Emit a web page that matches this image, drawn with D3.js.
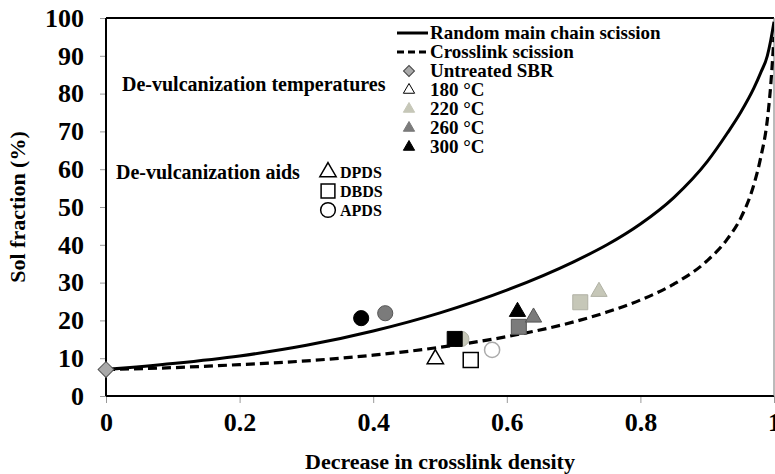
<!DOCTYPE html>
<html>
<head>
<meta charset="utf-8">
<script src="https://cdn.jsdelivr.net/npm/d3@7"></script>
<style>
  body { margin: 0; background: #fff; }
  text { font-family: "Liberation Serif", "Times New Roman", serif; font-weight: bold; fill: #000; }
</style>
</head>
<body>
<div id="chart"></div>
<script>
// theoretical curves
const chainX = [0, 0.1, 0.2, 0.3, 0.4, 0.5, 0.6, 0.7, 0.75, 0.8, 0.85, 0.9, 0.93, 0.95, 0.97, 0.98, 0.99, 0.995, 1];
const chainY = [7, 8.6, 10.6, 13.4, 17.2, 22, 28, 35.5, 40, 45.5, 52.5, 62, 69.5, 75, 81.5, 85.5, 90, 94, 99];
const crossX = [0, 0.1, 0.2, 0.3, 0.4, 0.5, 0.6, 0.7, 0.75, 0.8, 0.85, 0.9, 0.93, 0.95, 0.97, 0.98, 0.99, 0.995, 1];
const crossY = [7, 7.5, 8.3, 9.3, 10.8, 12.9, 15.7, 19.6, 22.2, 25.4, 29.6, 35.8, 41.5, 47, 56, 63, 73, 82, 95];

// samples
const sampleX     = [0, 0.493, 0.546, 0.578, 0.738, 0.71, 0.532, 0.64, 0.618, 0.418, 0.616, 0.522, 0.382];
const sampleY     = [7, 9.8, 9.5, 12.2, 27.6, 24.8, 15.1, 20.8, 18.3, 21.9, 22.3, 15.1, 20.6];
const sampleAid   = ["none", "DPDS", "DBDS", "APDS", "DPDS", "DBDS", "APDS", "DPDS", "DBDS", "APDS", "DPDS", "DBDS", "APDS"];
const sampleTemp  = ["SBR", "180", "180", "180", "220", "220", "220", "260", "260", "260", "300", "300", "300"];

const xTicks = [0, 0.2, 0.4, 0.6, 0.8, 1];
const yTicks = [0, 10, 20, 30, 40, 50, 60, 70, 80, 90, 100];

const tempLabels = ["Untreated SBR", "180 °C", "220 °C", "260 °C", "300 °C"];
const tempKeys = ["SBR", "180", "220", "260", "300"];
const aidLabels = ["DPDS", "DBDS", "APDS"];

const fills = { SBR: "#a9a9a9", "180": "#ffffff", "220": "#c6c7b8", "260": "#7b7b7b", "300": "#000000" };
const strokes = { SBR: "#555", "180": "#000", "220": "#b0b1a4", "260": "#555", "300": "#000" };

const width = 775, height = 474;
const margin = { top: 18, right: 1, bottom: 78, left: 106 };
const w = width - margin.left - margin.right;
const h = height - margin.top - margin.bottom;

const svg = d3.select('#chart').append('svg')
  .attr('width', width)
  .attr('height', height);

const g = svg.append('g').attr('transform', `translate(${margin.left},${margin.top})`);

const x = d3.scaleLinear().domain([0, 1]).range([0, w]);
const y = d3.scaleLinear().domain([0, 100]).range([h, 0]);

// axes (ticks only, frame drawn below)
const xAxis = g.append('g')
  .attr('transform', `translate(0,${h})`)
  .call(d3.axisBottom(x).tickValues(xTicks).tickFormat(d3.format('')).tickSize(7).tickPadding(10));
const yAxis = g.append('g')
  .call(d3.axisLeft(y).tickValues(yTicks).tickSize(6).tickPadding(16));
[xAxis, yAxis].forEach(a => {
  a.select('.domain').remove();
  a.selectAll('.tick line').attr('stroke', '#999');
  a.selectAll('.tick text').style('font-size', '26px');
});

// frame
g.append('line').attr('x1', 0).attr('x2', w).attr('y1', 0).attr('y2', 0).attr('stroke', '#000').attr('stroke-width', 2);
g.append('line').attr('x1', 0).attr('x2', 0).attr('y1', 0).attr('y2', h).attr('stroke', '#000').attr('stroke-width', 2);
g.append('line').attr('x1', 0).attr('x2', w).attr('y1', h).attr('y2', h).attr('stroke', '#000').attr('stroke-width', 2);
g.append('line').attr('x1', w).attr('x2', w).attr('y1', 0).attr('y2', h).attr('stroke', '#777').attr('stroke-width', 1);

// axis titles
svg.append('text')
  .attr('x', margin.left + w / 2)
  .attr('y', 469)
  .attr('text-anchor', 'middle')
  .style('font-size', '22px')
  .text('Decrease in crosslink density');
svg.append('text')
  .attr('transform', `translate(25,${margin.top + h / 2}) rotate(-90)`)
  .attr('text-anchor', 'middle')
  .style('font-size', '22px')
  .text('Sol fraction (%)');

// curves
g.append('clipPath').attr('id', 'clip')
  .append('rect').attr('width', w).attr('height', h);

const line = d3.line()
  .x(d => x(d[0]))
  .y(d => y(d[1]))
  .curve(d3.curveMonotoneX);

g.append('path')
  .datum(chainX.map((v, i) => [v, chainY[i]]))
  .attr('clip-path', 'url(#clip)')
  .attr('fill', 'none')
  .attr('stroke', '#000')
  .attr('stroke-width', 3)
  .attr('d', line);

g.append('path')
  .datum(crossX.map((v, i) => [v, crossY[i]]))
  .attr('clip-path', 'url(#clip)')
  .attr('fill', 'none')
  .attr('stroke', '#000')
  .attr('stroke-width', 3.2)
  .attr('stroke-dasharray', '9,5')
  .attr('d', line);

// markers
const symbolFor = { DPDS: d3.symbolTriangle, DBDS: d3.symbolSquare, APDS: d3.symbolCircle, none: d3.symbolSquare };
const sizeFor = { DPDS: 115, DBDS: 225, APDS: 180, none: 125 };
const order = { APDS: 0, DBDS: 1, DPDS: 2, none: 3 };

const samples = sampleX.map((v, i) => ({ x: v, y: sampleY[i], aid: sampleAid[i], temp: sampleTemp[i] }))
  .sort((a, b) => order[a.aid] - order[b.aid]);

g.selectAll('.pt')
  .data(samples)
  .enter()
  .append('path')
  .attr('class', 'pt')
  .attr('transform', d => `translate(${x(d.x)},${y(d.y)})` + (d.aid === 'none' ? ' rotate(45)' : ''))
  .attr('d', d => d3.symbol().type(symbolFor[d.aid]).size(sizeFor[d.aid])())
  .attr('fill', d => fills[d.temp])
  .attr('stroke', d => (d.temp === '180' && d.aid === 'APDS') ? '#aaa' : strokes[d.temp])
  .attr('stroke-width', d => d.temp === '180' ? 1.5 : 1);

// legend: curves + temperatures
const legX = 397, legTextX = 430, legY0 = 33, legStep = 19;
const leg = svg.append('g');

leg.append('line').attr('x1', legX).attr('x2', legX + 31).attr('y1', legY0).attr('y2', legY0)
  .attr('stroke', '#000').attr('stroke-width', 3);
leg.append('line').attr('x1', legX).attr('x2', legX + 31).attr('y1', legY0 + legStep).attr('y2', legY0 + legStep)
  .attr('stroke', '#000').attr('stroke-width', 3).attr('stroke-dasharray', '7,4');

['Random main chain scission', 'Crosslink scission'].forEach((t, i) => {
  leg.append('text').attr('x', legTextX).attr('y', legY0 + i * legStep + 6)
    .style('font-size', '19px').text(t);
});

tempKeys.forEach((k, i) => {
  const cy = legY0 + (i + 2) * legStep;
  leg.append('path')
    .attr('transform', `translate(${legX + 12},${cy})` + (k === 'SBR' ? ' rotate(45)' : ''))
    .attr('d', d3.symbol().type(k === 'SBR' ? d3.symbolSquare : d3.symbolTriangle).size(k === 'SBR' ? 60 : 55)())
    .attr('fill', fills[k])
    .attr('stroke', k === 'SBR' ? '#444' : (k === '180' ? '#000' : fills[k]))
    .attr('stroke-width', 1);
  leg.append('text').attr('x', legTextX).attr('y', cy + 6)
    .style('font-size', '19px').text(tempLabels[i]);
});

// annotations
svg.append('text').attr('x', 122).attr('y', 91).style('font-size', '20px').text('De-vulcanization temperatures');
svg.append('text').attr('x', 116).attr('y', 179).style('font-size', '20px').text('De-vulcanization aids');

// legend: aids (outline shapes)
const aidSymbols = [d3.symbolTriangle, d3.symbolSquare, d3.symbolCircle];
const aidSizes = [115, 190, 170];
aidLabels.forEach((t, i) => {
  const cy = 172 + i * 19;
  svg.append('path')
    .attr('transform', `translate(328,${cy})`)
    .attr('d', d3.symbol().type(aidSymbols[i]).size(aidSizes[i])())
    .attr('fill', '#fff')
    .attr('stroke', '#000')
    .attr('stroke-width', 1.5);
  svg.append('text').attr('x', 340).attr('y', cy + 6).style('font-size', '16px').text(t);
});
</script>
</body>
</html>
